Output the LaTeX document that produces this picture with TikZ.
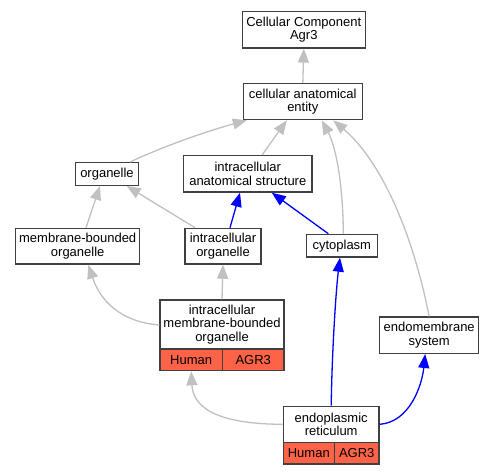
\documentclass[tikz,border=0pt]{standalone}
\usepackage{fontspec}
\setmainfont{Liberation Sans}
\usetikzlibrary{arrows.meta}
\definecolor{bordc}{HTML}{404040}
\definecolor{edgegray}{HTML}{C0C0C0}
\definecolor{tomatoc}{HTML}{FF6347}
\tikzset{
  box/.style={draw=bordc, line width=1.3pt, fill=white, inner sep=0pt, align=center,
    font=\fontsize{13}{13.3}\selectfont, text=black},
  cell/.style={box, fill=tomatoc},
  isa/.style={draw=edgegray, line width=1.3pt, -{Triangle[length=14pt,width=11pt]}},
  partof/.style={draw=blue, line width=1.3pt, -{Triangle[length=14pt,width=11pt]}},
}
\begin{document}
\begin{tikzpicture}[x=1pt,y=-1pt]
\useasboundingbox (0,0) rectangle (495,475);
% nodes
\node[box, minimum width=123pt, minimum height=36.3pt] (cc) at (303.8,29.8) {Cellular Component\\Agr3};
\node[box, minimum width=119pt, minimum height=36pt] (cae) at (302.8,101.7) {cellular anatomical\\entity};
\node[box, minimum width=62.6pt, minimum height=22.6pt] (org) at (107,174) {organelle};
\node[box, minimum width=128.3pt, minimum height=36.7pt] (ias) at (247.8,173.7) {intracellular\\anatomical structure};
\node[box, minimum width=124pt, minimum height=35.7pt] (mbo) at (77.7,246.2) {membrane-bounded\\organelle};
\node[box, minimum width=76pt, minimum height=35.7pt] (io) at (223,246.2) {intracellular\\organelle};
\node[box, minimum width=71pt, minimum height=22.7pt] (cyt) at (341.8,245.7) {cytoplasm};
\node[box, minimum width=124pt, minimum height=49pt] (imbo) at (222,324.5) {intracellular\\membrane-bounded\\organelle};
\node[cell, minimum width=62.3pt, minimum height=21.7pt] (imboh) at (191.2,359.8) {Human};
\node[cell, minimum width=61.7pt, minimum height=21.7pt] (imboa) at (253.2,359.8) {AGR3};
\node[box, minimum width=99pt, minimum height=36.3pt] (ems) at (429.2,335.2) {endomembrane\\system};
\node[box, minimum width=95.7pt, minimum height=36pt] (er) at (331.2,424.3) {endoplasmic\\reticulum};
\node[cell, minimum width=51pt, minimum height=21.7pt] (erh) at (308.8,453.2) {Human};
\node[cell, minimum width=44.7pt, minimum height=21.7pt] (era) at (356.7,453.2) {AGR3};
% edges
\draw[isa] (cae.north) -- (cc.south);
\draw[isa] ([xshift=23pt]org.north) .. controls (155,150) and (200,133) .. ([xshift=-56pt]cae.south);
\draw[isa] ([xshift=14.5pt]ias.north) -- ([xshift=-16pt]cae.south);
\draw[isa] ([xshift=1.5pt]cyt.north) .. controls (343,180) and (335,145) .. ([xshift=19pt]cae.south);
\draw[isa] (ems.north) .. controls (412,230) and (380,160) .. ([xshift=30.5pt]cae.south);
\draw[isa] ([xshift=8.3pt]mbo.north) -- ([xshift=-7pt]org.south);
\draw[isa] ([xshift=-28pt]io.north) -- ([xshift=19.7pt]org.south);
\draw[partof] ([xshift=7pt]io.north) -- ([xshift=-7.8pt]ias.south);
\draw[partof] ([xshift=-13.5pt]cyt.north) -- ([xshift=24pt]ias.south);
\draw[isa] (imbo.north) -- (io.south);
\draw[isa] ([yshift=-0.5pt]imbo.west) .. controls (120,322) and (100,300) .. ([xshift=10.6pt]mbo.south);
\draw[partof] (er.north) .. controls (332,350) and (336,290) .. ([xshift=-1.8pt]cyt.south);
\draw[isa] (er.west) .. controls (212,424) and (193,405) .. (imboh.south);
\draw[partof] (er.east) .. controls (410,422) and (422,385) .. ([xshift=-4pt]ems.south);
\end{tikzpicture}
\end{document}
